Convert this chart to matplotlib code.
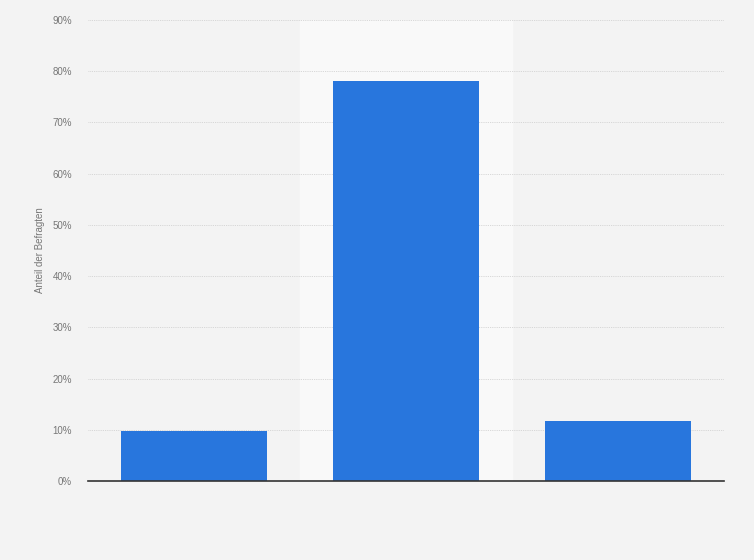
import matplotlib
matplotlib.use("Agg")
import matplotlib.pyplot as plt
from matplotlib.ticker import FuncFormatter

plt.rcParams["font.family"] = ["Liberation Sans", "DejaVu Sans"]

categories = ["A", "B", "C"]
values = [9.8, 78.0, 11.8]
yticks = [0, 10, 20, 30, 40, 50, 60, 70, 80, 90]
highlight_index = 1

fig = plt.figure(figsize=(7.54, 5.6), dpi=100, facecolor="#f3f3f3")
ax = fig.add_axes([88/754, 79/560, 636/754, 461/560])
ax.set_facecolor("#f3f3f3")

x = list(range(len(categories)))
ax.axvspan(highlight_index - 0.5, highlight_index + 0.5, color="#f9f9f9", zorder=0)
ax.bar(x, values, width=0.69, color="#2876dd", zorder=3)

ax.set_xlim(-0.5, len(categories) - 0.5)
ax.set_ylim(0, 90)
ax.set_yticks(yticks)
ax.yaxis.set_major_formatter(FuncFormatter(lambda v, p: f"{int(v)}%"))
ax.set_xticks([])
ax.grid(axis="y", color="#cccccc", linestyle=(0, (1, 1.2)), linewidth=0.6, zorder=1)
for s in ["top", "right", "left"]:
    ax.spines[s].set_visible(False)
ax.spines["bottom"].set_color("#333333")
ax.spines["bottom"].set_linewidth(1.2)
ax.spines["bottom"].set_zorder(4)
ax.tick_params(axis="y", length=0, pad=11.5, labelsize=7, labelcolor="#777777")
ax.set_ylabel("Anteil der Befragten", fontsize=7, color="#777777", labelpad=5)

fig.savefig("out.png", dpi=100, facecolor=fig.get_facecolor())
